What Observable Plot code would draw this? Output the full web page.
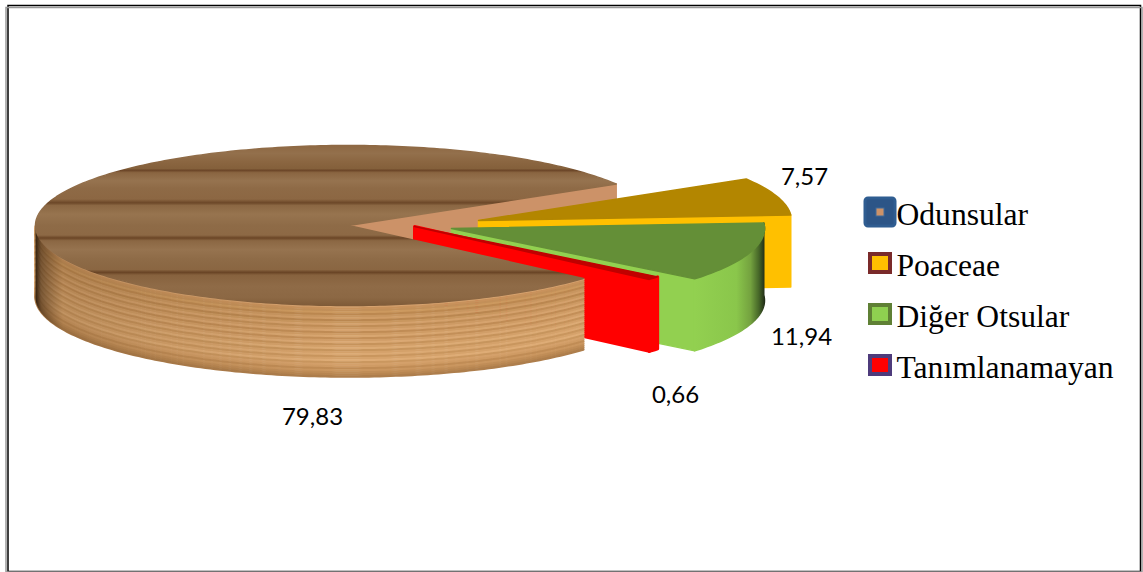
<!DOCTYPE html>
<html lang="tr">
<head>
<meta charset="utf-8">
<title>Polen türleri</title>
<script src="https://cdn.jsdelivr.net/npm/d3@7"></script>
<script src="https://cdn.jsdelivr.net/npm/@observablehq/plot@0.6"></script>
<style>
  html, body { margin: 0; padding: 0; background: #fff; }
  svg { display: block; }
</style>
</head>
<body>
<div id="chart"></div>
<script>
// Pollen groups and their percentage shares
const groups = ["Odunsular", "Poaceae", "Diğer Otsular", "Tanımlanamayan"];
const shares = [79.83, 7.57, 11.94, 0.66];

// Colours per slice
const topColors = ["url(#woodTop)", "#B38600", "#648F37", "#C00000"];
const faceColors = ["#CC9268", "#FFC000", "#92D050", "#FF0000"];
const wallColors = ["url(#woodWall)", "#FFC000", "url(#greenWall)", "#FF0000"];

// Exploded centre of each slice, and where its value label sits relative to that centre
const centers = [[348, 225], [478, 220], [451, 228], [414, 226]];
const labelOffsets = [[-36, 192], [326, -43], [350, 109], [261, 169]];

// Legend swatch styling
const swatchStrokes = ["#2F5D91", "#7A2A2A", "#5F8035", "#4E3B7B"];
const swatchFills = ["#2C5587", "#FFC000", "#8FD050", "#FF0000"];

// Bands of colour in the wood: plank stops across the top, ply layers down the side
const plankStops = [
  [0, "#8E6843"], [0.05, "#93704C"], [0.1, "#8B6641"], [0.145, "#84603B"], [0.155, "#6B4527"], [0.17, "#8A6541"],
  [0.22, "#96734F"], [0.27, "#8E6A46"], [0.335, "#8C6743"], [0.358, "#6C4728"], [0.375, "#8B6743"],
  [0.43, "#97744F"], [0.5, "#8E6B47"], [0.56, "#8D6945"], [0.578, "#6A4526"], [0.595, "#8B6743"],
  [0.65, "#96734F"], [0.72, "#8D6A46"], [0.775, "#8A6642"], [0.793, "#694425"], [0.81, "#87623E"],
  [0.88, "#8F6B47"], [0.95, "#8C6844"], [1, "#7F5B38"]
];
const plyColors = [
  "#D6A26E", "#C8925C", "#C39059", "#CC995F", "#BC8850", "#C89660", "#D09D67", "#BA8750",
  "#C9975F", "#D4A16C", "#C08D56", "#CD9A64", "#D6A36E", "#C08C55", "#CF9C65", "#D8A670",
  "#C38F58", "#D19E68", "#DAA873", "#C6935B", "#D3A069", "#DCAB75", "#C7955D", "#D4A16A",
  "#DBA973", "#C9965E", "#D5A26B", "#DEAC76", "#CA975F", "#D4A06A", "#CF9B64", "#C08C55",
  "#CA965F", "#C08D57", "#B88651", "#AE7E4C"
];

// Projection of the tilted disc
const rx = 313, ry = 80, depth = 72;
const startAngle = 41.4 * Math.PI / 180;
const step = Math.PI / 180;

const slices = d3.pie().sort(null)
  .startAngle(startAngle)
  .endAngle(startAngle + 2 * Math.PI)(shares)
  .map((s, i) => ({
    name: groups[i], value: shares[i], a0: s.startAngle, a1: s.endAngle,
    cx: centers[i][0], cy: centers[i][1], top: topColors[i], face: faceColors[i], wall: wallColors[i]
  }));
const [wood, poaceae, otsular, other] = slices;

const rimPoint = (s, a, h = 0) => ({x: s.cx + rx * Math.cos(a), y: s.cy + ry * Math.sin(a) + h});
const rim = (s, a0, a1, h = 0) => {
  const n = Math.max(1, Math.ceil(Math.abs(a1 - a0) / step));
  return d3.range(n + 1).map(k => rimPoint(s, a0 + (a1 - a0) * k / n, h));
};

// Flat polygon drawn as a closed line, with rounded joins softening its corners
const polygon = (points, fill, outline = 1.5) => Plot.line(points, {
  x: "x", y: "y", curve: "linear-closed", fill,
  stroke: outline ? fill : "none", strokeWidth: outline, strokeLinejoin: "round"
});
const topFace = s => polygon([{x: s.cx, y: s.cy}, ...rim(s, s.a0, s.a1)], s.top);
const cutFace = (s, a, outline) => polygon([
  {x: s.cx, y: s.cy}, rimPoint(s, a), rimPoint(s, a, depth), {x: s.cx, y: s.cy + depth}
], s.face, outline);
const sideWall = (s, a0, a1, outline) => polygon([...rim(s, a0, a1), ...rim(s, a1, a0, depth)], s.wall, outline);

// The front of the wooden disc: curved ply layers, each following the rim
const woodEnd = Math.PI;
const plyLines = plyColors.flatMap((color, i) =>
  rim(wood, wood.a0, woodEnd, (i + 0.5) * depth / plyColors.length).map(p => ({...p, layer: i, color})));

// Gradients shared by the marks
function gradients() {
  const defs = d3.create("svg:defs");
  const add = (id, horizontal, stops) => {
    const g = defs.append("linearGradient").attr("id", id)
      .attr("x1", 0).attr("y1", 0).attr("x2", horizontal ? 1 : 0).attr("y2", horizontal ? 0 : 1);
    for (const [offset, color, opacity = 1] of stops)
      g.append("stop").attr("offset", offset).attr("stop-color", color).attr("stop-opacity", opacity);
  };
  add("woodTop", false, plankStops);
  add("greenWall", true, [[0, "#92D050"], [0.6, "#8AC64B"], [0.8, "#74A23F"], [0.92, "#466628"], [1, "#222F18"]]);
  add("woodShade", true, [[0, "#2A1A0A", 0.95], [0.01, "#3A2410", 0.6], [0.05, "#5A3A1A", 0.22], [0.25, "#5A3A1A", 0.1], [0.55, "#5A3A1A", 0], [1, "#5A3A1A", 0]]);
  return defs.node();
}

const plot = Plot.plot({
  width: 1143,
  height: 572,
  margin: 0,
  style: {background: "#fff"},
  x: {domain: [0, 1143], range: [0, 1143], axis: null},
  y: {domain: [0, 572], range: [0, 572], axis: null},
  color: {type: "identity"},
  marks: [
    gradients,

    // Double outline round the chart area
    Plot.frame({stroke: "#000", strokeWidth: 1.5, insetLeft: 7.5, insetTop: 5, insetRight: 3, insetBottom: 1}),
    Plot.frame({stroke: "#999", strokeWidth: 1.5, insetLeft: 5.5, insetTop: 7, insetRight: 1.5, insetBottom: 0.5}),

    // Slices painted from back to front
    cutFace(wood, wood.a1),
    cutFace(poaceae, poaceae.a1),
    topFace(poaceae),
    cutFace(otsular, otsular.a1),
    sideWall(otsular, otsular.a0, otsular.a1),
    topFace(otsular),
    cutFace(other, other.a1, 3),
    sideWall(other, other.a0, other.a1, 3),
    topFace(other),

    // Wooden disc on top of everything else
    Plot.line(plyLines, {x: "x", y: "y", z: "layer", stroke: "color", strokeWidth: depth / plyColors.length + 0.6}),
    polygon([...rim(wood, wood.a0, woodEnd), ...rim(wood, woodEnd, wood.a0, depth)], "url(#woodShade)", 0),
    topFace(wood),

    // Value labels with a decimal comma
    Plot.text(slices, {
      x: (s, i) => s.cx + labelOffsets[i][0],
      y: (s, i) => s.cy + labelOffsets[i][1],
      text: s => d3.format(".2f")(s.value).replace(".", ","),
      fontFamily: "Lato", fontSize: 24, fill: "#000", textAnchor: "middle", lineAnchor: "middle"
    }),

    // Legend
    Plot.rect(groups.slice(1), {
      x1: () => 870, x2: () => 890,
      y1: (d, i) => 254 + i * 51, y2: (d, i) => 272 + i * 51,
      fill: (d, i) => swatchFills[i + 1], stroke: (d, i) => swatchStrokes[i + 1], strokeWidth: 4
    }),
    Plot.rect(groups.slice(0, 1), {
      x1: () => 865, x2: () => 895, y1: () => 198, y2: () => 226,
      fill: swatchFills[0], stroke: swatchStrokes[0], strokeWidth: 3, rx: 3
    }),
    Plot.rect(groups.slice(0, 1), {x1: () => 876, x2: () => 884, y1: () => 208, y2: () => 216, fill: "#CC9268", stroke: "#3E6A9A", strokeWidth: 1}),
    Plot.text(groups, {
      x: () => 896, y: (d, i) => 214 + i * 51, text: d => d,
      fontFamily: "Liberation Serif", fontSize: 31.6, fill: "#000", textAnchor: "start", lineAnchor: "middle"
    })
  ]
});
document.getElementById("chart").append(plot);
</script>
</body>
</html>
